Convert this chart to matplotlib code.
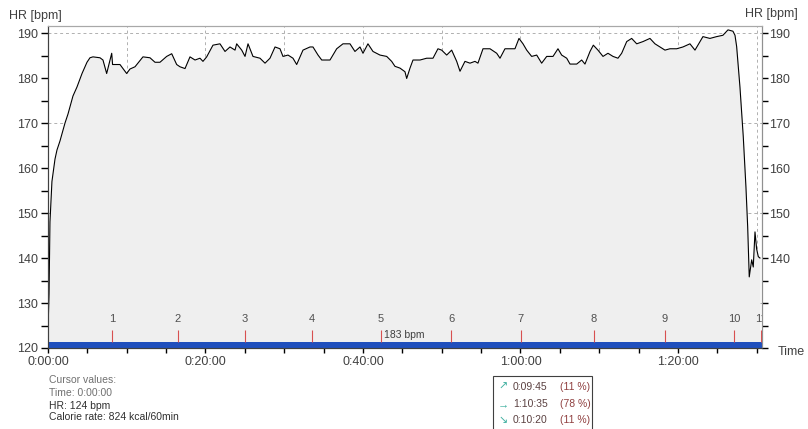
import matplotlib
matplotlib.use("Agg")
import matplotlib.pyplot as plt
from matplotlib.patches import Rectangle
import numpy as np

plt.rcParams['font.family'] = ['Liberation Sans', 'DejaVu Sans']

# heart rate (time in minutes, bpm)
t_min = [0, 0.13, 0.25, 0.5, 0.89, 1.14, 1.52, 2.16, 2.54, 3.17, 3.68, 4.32, 4.95, 5.33, 5.71,
         6.6, 6.98, 7.45, 8.09, 8.2, 8.51, 9.14, 9.99, 10.41, 11.05, 12.06, 12.95, 13.59, 14.22,
         15.07, 15.71, 16.34, 16.76, 17.4, 18.03, 18.67, 19.3, 19.68, 20.15, 20.95, 21.84, 22.48,
         23.11, 23.75, 23.96, 24.6, 25.02, 25.4, 26.03, 26.92, 27.56, 28.19, 28.83, 29.46, 29.84,
         30.48, 31.11, 31.58, 32.38, 33.27, 33.65, 34.29, 34.76, 35.81, 36.66, 37.46, 38.35, 38.98,
         39.62, 40.0, 40.63, 41.27, 42.16, 43.01, 43.64, 44.06, 44.7, 45.33, 45.55, 45.97, 46.35,
         47.24, 48.09, 48.89, 49.52, 49.99, 50.63, 51.26, 51.9, 52.32, 52.95, 53.59, 54.22, 54.6,
         55.24, 56.13, 56.98, 57.4, 58.03, 58.67, 59.3, 59.81, 60.32, 60.79, 61.42, 62.06, 62.69,
         63.33, 64.13, 64.76, 65.23, 65.87, 66.29, 67.14, 67.77, 68.19, 68.83, 69.25, 69.84, 70.48,
         71.11, 71.75, 72.38, 72.85, 73.49, 74.12, 74.76, 75.56, 76.44, 77.08, 77.71, 78.35, 78.98,
         79.83, 80.63, 81.52, 82.16, 82.79, 83.17, 84.06, 84.91, 85.71, 86.35, 86.98, 87.24, 87.45,
         87.87, 88.29, 88.63, 88.85, 89.05, 89.36, 89.56, 89.78, 89.99, 90.2, 90.41]
hr = [124, 132, 148, 157, 162, 164, 166, 170, 172, 176, 178, 181, 183.5, 184.5, 184.7,
      184.5, 184, 181, 185.5, 183, 183, 183, 181, 182, 182.5, 184.7, 184.5, 183.5, 183.5,
      184.8, 185.4, 183, 182.5, 182.1, 184.7, 184, 184.4, 183.7, 184.7, 187.3, 187.6, 185.9,
      186.9, 186.2, 187.6, 186.2, 184.8, 187.6, 184.8, 184.4, 183.3, 184.4, 186.9, 186.5, 184.8,
      185.1, 184.4, 183, 186.2, 186.9, 186.9, 185.1, 184, 184, 186.5, 187.6, 187.6, 185.9,
      186.9, 185.5, 187.6, 185.9, 185.1, 184.8, 183.7, 182.6, 182.2, 181.4, 179.9, 182.2, 184,
      184, 184.4, 184.4, 186.5, 186.2, 185.1, 186.2, 183.7, 181.5, 183.7, 183.3, 183.7, 183.3,
      186.5, 186.5, 185.5, 184.4, 186.5, 186.5, 186.5, 188.8, 187.6, 186.2, 184.8, 185.1, 183.3,
      184.8, 184.8, 186.5, 185.1, 184.4, 183.1, 183.1, 184, 183.1, 185.9, 187.3, 186.2, 184.8,
      185.5, 184.8, 184.4, 185.5, 188.1, 188.8, 187.6, 188.1, 188.8, 187.6, 186.9, 186.2, 186.5,
      186.5, 186.9, 187.6, 186.2, 188.1, 189.2, 188.8, 189.2, 189.5, 190.7, 190.4, 189.5, 187,
      178, 167, 155.8, 147, 135.8, 139.6, 138, 145.8, 142, 140.3, 140]

lap_min = [8.13, 16.5, 25.0, 33.5, 42.3, 51.2, 60.06, 69.3, 78.3, 87.1, 90.5]
lap_names = ["1", "2", "3", "4", "5", "6", "7", "8", "9", "10", "11"]
x_ticks = [0, 20, 40, 60, 80]
x_labels = ["0:00:00", "0:20:00", "0:40:00", "1:00:00", "1:20:00"]
right_labels = ["", "", "140", "150", "160", "170", "180", "190"]
avg_text = "183 bpm"
cursor_lines = ["Cursor values:", "Time: 0:00:00", "HR: 124 bpm", "Calorie rate: 824 kcal/60min"]
zone_arrows = ["\u2197", "\u2192", "\u2198"]
zone_times = ["0:09:45", "1:10:35", "0:10:20"]
zone_pcts = ["(11 %)", "(78 %)", "(11 %)"]

W, H = 808, 429
fig = plt.figure(figsize=(W / 100, H / 100), dpi=100)
fig.patch.set_facecolor("white")
ax = fig.add_axes([48 / W, 1 - 348 / H, (762 - 48) / W, (348 - 26) / H])
ax.set_xlim(0, 90.67)
ax.set_ylim(120, 191.56)

# dashed grid sits under the grey fill
for gx in range(10, 91, 10):
    ax.axvline(gx, color="#b0b0b0", ls=(0, (3, 3)), lw=0.7, zorder=0.5)
for gy in (130, 150, 170, 190):
    ax.axhline(gy, color="#b0b0b0", ls=(0, (3, 3)), lw=0.7, zorder=0.5)

ax.fill_between(t_min, hr, 120, color="#efefef", lw=0, zorder=1)
ax.plot(t_min, hr, color="black", lw=0.8, zorder=3)

# blue strip + lap markers
ax.axhspan(120, 121.35, color="#1f4fbd", lw=0, zorder=4)
laps = ax.vlines(lap_min, 121.35, 124.0, color="#d85050", lw=0.8, zorder=5)
laps.set_snap(True)
for t, name in zip(lap_min, lap_names):
    ax.text(t, 126.4, name, ha="center", va="center", fontsize=8, color="#505050",
            zorder=6, clip_on=True)
ax.text(42.67, 122.9, avg_text, ha="left", va="center", fontsize=7.5, color="#404040", zorder=6)

ax.set_xticks(x_ticks)
ax.set_xticklabels(x_labels)
ax.set_xticks(np.arange(0, 91, 5), minor=True)
ax.set_yticks(range(120, 191, 10))
ax.set_yticks(range(125, 191, 10), minor=True)
ax.tick_params(axis="x", which="both", direction="out", length=3.5, width=1, pad=2,
               colors="black", labelcolor="#404040", labelsize=9)
ax.tick_params(axis="y", which="both", direction="out", length=5, width=1, pad=2,
               colors="black", labelcolor="#404040", labelsize=9)

ax2 = ax.twinx()
ax2.set_ylim(120, 191.56)
ax2.set_yticks(range(120, 191, 10))
ax2.set_yticklabels(right_labels)
ax2.set_yticks(range(125, 191, 10), minor=True)
ax2.tick_params(axis="y", which="both", direction="out", length=4, width=1, pad=1,
                colors="black", labelcolor="#404040", labelsize=9)

for a in (ax, ax2):
    a.spines["top"].set_color("#a8a8a8")
    a.spines["left"].set_color("#404040")
    a.spines["right"].set_color("#909090")
    a.spines["bottom"].set_color("#404040")

fig.text(9 / W, 1 - 16 / H, "HR [bpm]", fontsize=9, color="#404040", va="center", ha="left")
fig.text(798 / W, 1 - 14 / H, "HR [bpm]", fontsize=9, color="#404040", va="center", ha="right")
fig.text(778 / W, 1 - 352 / H, "Time", fontsize=9, color="#404040", va="center", ha="left")

cursor_y = [380, 393, 406, 417]
cursor_col = ["#707070", "#707070", "#303030", "#303030"]
for line, yy, c in zip(cursor_lines, cursor_y, cursor_col):
    fig.text(49 / W, 1 - yy / H, line, fontsize=7.5, color=c, va="center", ha="left")

fig.patches.append(Rectangle((493 / W, 1 - 432 / H), (592 - 493) / W, (432 - 376) / H,
                             transform=fig.transFigure, facecolor="white",
                             edgecolor="#404040", lw=0.8))
zone_y = [387, 404, 420]
for arr, tm, pc, yy in zip(zone_arrows, zone_times, zone_pcts, zone_y):
    fig.text(498 / W, 1 - yy / H, arr, fontsize=8, color="#40b0a0", va="center", ha="left")
    fig.text(513 / W, 1 - yy / H, tm, fontsize=7.5, color="#5a4040", va="center", ha="left")
    fig.text(560 / W, 1 - yy / H, pc, fontsize=7.5, color="#904040", va="center", ha="left")

fig.savefig("out.png", dpi=100)
